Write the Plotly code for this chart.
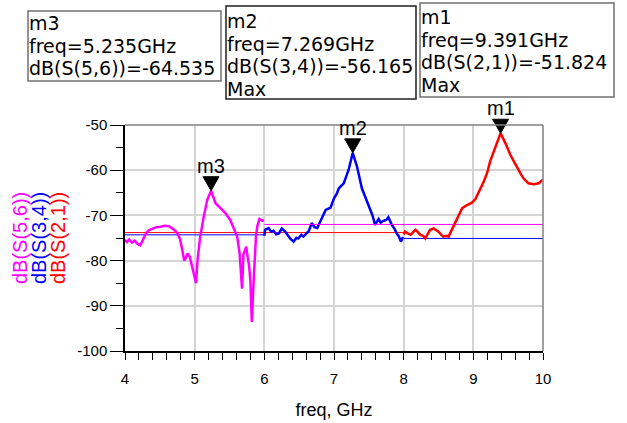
import plotly.graph_objects as go

# ---- data ----
freq_s56 = [4.00, 4.03, 4.06, 4.10, 4.14, 4.18, 4.22, 4.26, 4.30, 4.34, 4.39, 4.45, 4.51, 4.57, 4.63,
            4.70, 4.75, 4.79, 4.82, 4.85, 4.87, 4.90, 4.93, 4.96, 4.99, 5.02, 5.04, 5.08, 5.13, 5.18,
            5.235, 5.30, 5.37, 5.44, 5.51, 5.56, 5.61, 5.645, 5.68, 5.70, 5.74, 5.76, 5.78, 5.80,
            5.82, 5.84, 5.86, 5.88, 5.90, 5.93, 5.97, 5.99]
db_s56 = [-75.4, -75.9, -75.3, -76.0, -75.6, -76.3, -76.6, -75.3, -74.0, -73.3, -72.9, -72.6, -72.5,
          -72.3, -72.4, -73.1, -73.9, -75.3, -77.5, -80.0, -79.5, -78.4, -79.2, -81.0, -82.8, -85.0,
          -80.0, -74.7, -70.3, -66.6, -64.535, -67.3, -68.4, -69.5, -71.0, -72.8, -74.7, -78.4,
          -86.2, -78.6, -76.9, -79.1, -81.0, -84.5, -93.6, -86.5, -79.9, -74.7, -72.3, -70.8,
          -71.2, -71.0]

freq_s34 = [6.00, 6.01, 6.06, 6.10, 6.13, 6.17, 6.21, 6.25, 6.30, 6.34, 6.37, 6.42, 6.46, 6.49, 6.53,
            6.56, 6.60, 6.64, 6.68, 6.72, 6.76, 6.80, 6.84, 6.88, 6.95, 7.00, 7.04, 7.07, 7.14, 7.21,
            7.269, 7.33, 7.40, 7.47, 7.55, 7.59, 7.64, 7.67, 7.71, 7.75, 7.78, 7.83, 7.87, 7.90,
            7.93, 7.96, 7.99]
db_s34 = [-74.5, -73.2, -72.8, -73.6, -73.4, -74.2, -74.0, -72.9, -73.6, -74.6, -75.1, -75.8, -75.0,
          -75.1, -74.3, -74.7, -74.0, -73.4, -71.7, -72.6, -72.8, -71.4, -70.0, -68.8, -68.3, -66.2,
          -65.2, -64.0, -62.9, -59.9, -56.165, -59.2, -64.0, -66.9, -69.9, -72.1, -70.8, -71.6,
          -71.2, -71.0, -70.4, -72.1, -73.0, -74.0, -74.6, -75.8, -74.8]

freq_s21 = [8.00, 8.02, 8.06, 8.10, 8.13, 8.17, 8.21, 8.24, 8.28, 8.31, 8.35, 8.38, 8.43, 8.47, 8.50,
            8.54, 8.57, 8.61, 8.645, 8.69, 8.74, 8.79, 8.84, 8.91, 8.98, 9.03, 9.05, 9.10, 9.15,
            9.20, 9.24, 9.29, 9.34, 9.391, 9.46, 9.53, 9.58, 9.63, 9.68, 9.72, 9.79, 9.87, 9.94, 10.0]
db_s21 = [-74.2, -73.6, -74.0, -74.3, -73.8, -73.2, -73.8, -74.3, -74.5, -75.1, -74.0, -73.2, -72.9,
          -73.2, -73.6, -74.3, -74.7, -74.5, -74.7, -73.2, -71.7, -69.9, -68.4, -67.7, -67.2, -66.4,
          -65.8, -64.3, -62.5, -60.5, -58.1, -56.0, -54.0, -51.824, -54.0, -56.6, -58.0, -59.5,
          -60.8, -61.8, -62.9, -63.1, -62.9, -62.1]

# constant levels drawn outside each trace's band
level_s56 = ([6.0, 10.0], [-72.0, -72.0])
level_s34_low = ([4.0, 6.0], [-74.3, -74.3])
level_s34_high = ([8.0, 10.0], [-75.1, -75.1])
level_s21 = ([4.0, 8.0], [-73.8, -73.8])

markers = ["m3", "m2", "m1"]
marker_freq = [5.235, 7.269, 9.391]
marker_db = [-64.535, -56.165, -51.824]
marker_meas = ["dB(S(5,6))", "dB(S(3,4))", "dB(S(2,1))"]
marker_max = [False, True, True]

x_ticks = [4, 5, 6, 7, 8, 9, 10]
y_ticks = [-100, -90, -80, -70, -60, -50]

MAG, BLU, RED = "#FF00FF", "#0000FF", "#FF0000"
FONT = "Liberation Sans, Arial, sans-serif"
BOXFONT = "DejaVu Sans, Liberation Sans, sans-serif"

W, H = 627, 423
ML, MT = 125, 125
MR = W - 543
MB = H - 351
PW, PH = W - ML - MR, H - MT - MB

fig = go.Figure()

# constant reference lines
for (xs, ys), col in [(level_s21, RED), (level_s34_low, BLU), (level_s34_high, BLU)]:
    fig.add_trace(go.Scatter(x=xs, y=ys, mode="lines", line=dict(color=col, width=1),
                             hoverinfo="skip", showlegend=False))

fig.add_trace(go.Scatter(x=freq_s56, y=db_s56, mode="lines", line=dict(color=MAG, width=2.5),
                         showlegend=False))
fig.add_trace(go.Scatter(x=freq_s34, y=db_s34, mode="lines", line=dict(color=BLU, width=2.5),
                         showlegend=False))
fig.add_trace(go.Scatter(x=level_s56[0], y=level_s56[1], mode="lines", line=dict(color=MAG, width=1),
                         hoverinfo="skip", showlegend=False))
fig.add_trace(go.Scatter(x=freq_s21, y=db_s21, mode="lines", line=dict(color=RED, width=2.5),
                         showlegend=False))

xmin, xmax, ymin, ymax = 4, 10, -100, -50


def px_x(px):
    return (px - ML) / PW


def px_y(py):
    return (H - MB - py) / PH


# marker triangles + labels
for name, f, d in zip(markers, marker_freq, marker_db):
    fig.add_shape(type="path", xref="paper", yref="paper",
                  xsizemode="pixel", ysizemode="pixel",
                  xanchor=(f - xmin) / (xmax - xmin), yanchor=(d - ymin) / (ymax - ymin),
                  path="M0,0 L-8,14 L8,14 Z", fillcolor="black", line=dict(color="black", width=1))
    fig.add_annotation(x=f, y=d, xref="x", yref="y", text=name, showarrow=False,
                       yanchor="bottom", yshift=12, font=dict(family=FONT, size=20, color="black"))

# marker readout boxes (reference pixel geometry): x0, x1, y0, y1, text top, border colour
boxes = [(28, 221, 11, 81, 10, "#707070"), (226, 416, 6, 99, 8, "#202020"), (420, 614, 3, 97, 4, "#707070")]
for (x0, x1, y0, y1, ttop, bc), name, f, d, meas, mx in zip(boxes, markers, marker_freq, marker_db,
                                                            marker_meas, marker_max):
    fig.add_shape(type="rect", xref="paper", yref="paper", x0=px_x(x0), x1=px_x(x1),
                  y0=px_y(y1), y1=px_y(y0), line=dict(color=bc, width=1.5))
    lines = [name, f"freq={f:.3f}GHz", f"{meas}={d:.3f}"] + (["Max"] if mx else [])
    text = "<br>".join(f'<span style="font-size:19px">{t}</span>' for t in lines)
    fig.add_annotation(x=px_x(x0 - 1), y=px_y(ttop), xref="paper", yref="paper",
                       text=text, showarrow=False, xanchor="left", yanchor="top", align="left",
                       font=dict(family=BOXFONT, size=17.4, color="black"))

# top/right frame in grey
fig.add_shape(type="line", xref="paper", yref="paper", x0=0, x1=1, y0=1, y1=1,
              line=dict(color="#808080", width=1.5))
fig.add_shape(type="line", xref="paper", yref="paper", x0=1, x1=1, y0=0, y1=1,
              line=dict(color="#808080", width=1.5))

# coloured y titles
for t, col, cx in [("dB(S(5,6))", MAG, 20), ("dB(S(3,4))", BLU, 39), ("dB(S(2,1))", RED, 58)]:
    fig.add_annotation(x=px_x(cx), y=px_y(238), xref="paper", yref="paper", text=t, textangle=-90,
                       showarrow=False, xanchor="center", yanchor="middle",
                       font=dict(family=FONT, size=20, color=col))

fig.update_layout(
    width=W, height=H, margin=dict(l=ML, r=MR, t=MT, b=MB, autoexpand=False),
    paper_bgcolor="white", plot_bgcolor="white",
    font=dict(family=FONT, size=15, color="black"),
    xaxis=dict(range=[xmin, xmax], tickvals=x_ticks, ticktext=[str(v) for v in x_ticks],
               showgrid=True, gridcolor="#d4d4d4", gridwidth=1.5, zeroline=False,
               showline=True, linecolor="black", linewidth=1.5, automargin=False,
               ticks="outside", ticklen=7, tickcolor="black", tickwidth=1, ticklabelstandoff=6,
               minor=dict(dtick=0.2, ticks="outside", ticklen=7, tickcolor="black", showgrid=False),
               title=dict(text="freq, GHz", font=dict(size=18), standoff=18),
               tickfont=dict(size=15)),
    yaxis=dict(range=[ymin, ymax], tickvals=y_ticks, ticktext=[str(v) for v in y_ticks],
               showgrid=True, gridcolor="#d4d4d4", gridwidth=1.5, zeroline=False,
               showline=True, linecolor="black", linewidth=1.5, automargin=False,
               ticks="outside", ticklen=13, tickcolor="black", tickwidth=1,
               minor=dict(dtick=5, ticks="outside", ticklen=7, tickcolor="black", showgrid=False),
               tickfont=dict(size=15)),
)

fig.write_html("out.html", config={"displayModeBar": False},
               post_script="document.body.style.margin='0px';")
